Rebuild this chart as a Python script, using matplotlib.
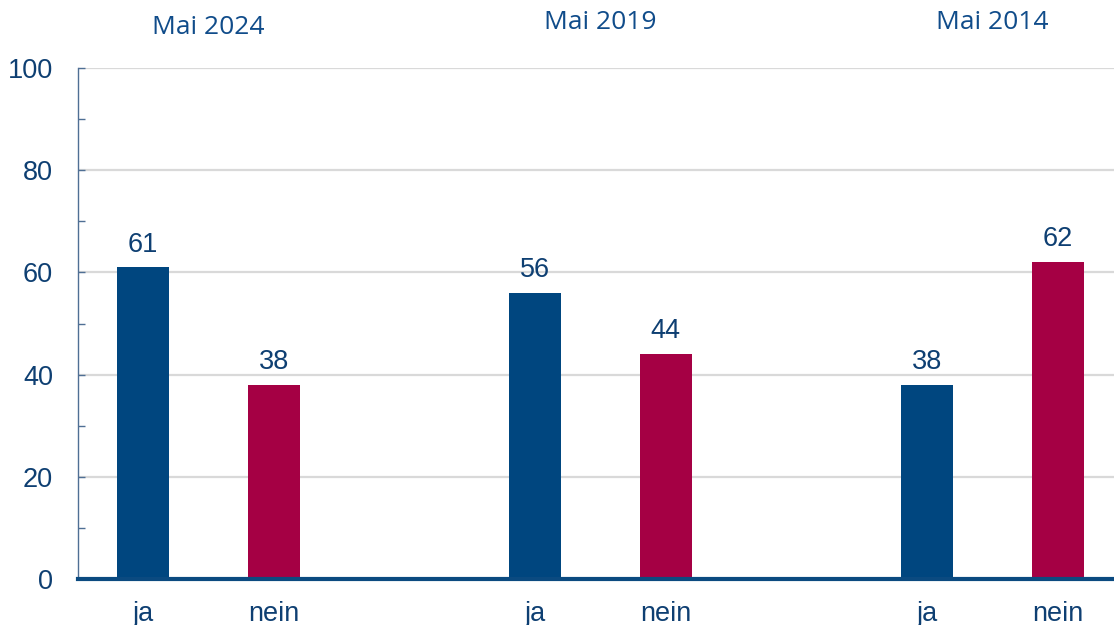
import matplotlib as mpl
import matplotlib.pyplot as plt
import numpy as np

groups = ["Mai 2024", "Mai 2019", "Mai 2014"]
answers = ["ja", "nein"]
ja_values = [61, 56, 38]
nein_values = [38, 44, 62]

BLUE = "#00467F"
RED = "#A50044"
TEXT = "#0E3F72"
TITLE = "#104C8A"

mpl.rcParams.update({
    "font.family": ["Liberation Sans", "DejaVu Sans"],
    "font.size": 19.5,
})

fig = plt.figure(figsize=(11.14, 6.25), dpi=100)
ax = fig.add_axes([78 / 1114, 46 / 625, (1114 - 78) / 1114, (579 - 68) / 625])

group_x = np.arange(len(groups)) * 3
ja_x = group_x
nein_x = group_x + 1
width = 0.4

bars_ja = ax.bar(ja_x, ja_values, width, color=BLUE, zorder=3)
bars_nein = ax.bar(nein_x, nein_values, width, color=RED, zorder=3)
for bars in (bars_ja, bars_nein):
    ax.bar_label(bars, padding=7, color=TEXT, fontsize=19.5)

ax.set_xlim(-0.497, 7.43)
ax.set_ylim(0, 100)
ax.set_yticks(np.arange(0, 101, 20))
ax.set_yticks(np.arange(10, 100, 20), minor=True)
ax.yaxis.grid(True, color="#D9D9D9", linewidth=1.6, zorder=0)
ax.set_axisbelow(True)

ax.set_xticks(np.concatenate([ja_x, nein_x]))
ax.set_xticklabels(answers[:1] * len(groups) + answers[1:] * len(groups))
ax.tick_params(axis="x", length=0, pad=16, colors=TEXT, labelsize=19.5)
ax.tick_params(axis="y", which="both", direction="in", length=5, width=1,
               color="#4F6F94", pad=18, labelcolor=TEXT, labelsize=19.5)

for side in ("top", "right"):
    ax.spines[side].set_visible(False)
ax.spines["left"].set_color("#4F6F94")
ax.spines["left"].set_linewidth(1)
ax.spines["bottom"].set_color("#0B4A80")
ax.spines["bottom"].set_linewidth(3)
ax.spines["bottom"].set_zorder(4)

title_y = [1.08, 1.09, 1.09]
for gx, name, ty in zip(group_x, groups, title_y):
    ax.text(gx + 0.5, ty, name, transform=ax.get_xaxis_transform(),
            ha="center", va="center", color=TITLE, fontsize=19,
            family="Open Sans")

fig.savefig("out.png", dpi=100)
